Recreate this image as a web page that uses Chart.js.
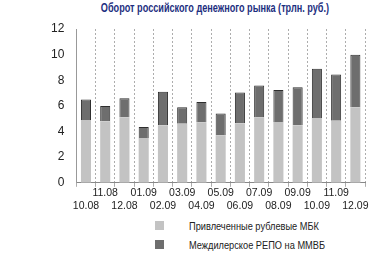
<!DOCTYPE html>
<html>
<head>
<meta charset="utf-8">
<script src="https://cdn.jsdelivr.net/npm/chart.js@4"></script>
<style>
  body { margin: 0; background: #fff; font-family: 'Liberation Sans', Arial, sans-serif; }
  #title { position: absolute; left: 0; top: 1px; width: 589px; text-align: center; font-size: 12.5px; font-weight: bold; color: #1d2f80; transform: scaleX(0.73); transform-origin: 0 0; white-space: nowrap; }
  #wrap { position: absolute; left: 0; top: 0; width: 375px; height: 212px; }
  #legend { position: absolute; left: 155px; top: 216px; font-size: 11px; color: #222; }
  .item { display: flex; align-items: center; height: 19px; }
  .box { width: 9px; height: 9px; margin-right: 25px; }
  .txt { display: inline-block; transform: scaleX(0.84); transform-origin: 0 50%; white-space: nowrap; }
</style>
</head>
<body>
<div id="title">Оборот российского денежного рынка (трлн. руб.)</div>
<div id="wrap"><canvas id="chart"></canvas></div>
<div id="legend"></div>
<script>
let months = ['10.08','11.08','12.08','01.09','02.09','03.09','04.09','05.09','06.09','07.09','08.09','09.09','10.09','11.09','12.09'];
let mbk = [4.9, 4.8, 5.1, 3.5, 4.5, 4.6, 4.7, 3.7, 4.65, 5.1, 4.75, 4.5, 5.05, 4.85, 5.9];
let repo = [1.6, 1.2, 1.5, 0.85, 2.6, 1.3, 1.6, 1.7, 2.4, 2.5, 2.5, 2.95, 3.85, 3.6, 4.1];
let seriesNames = ['Привлеченные рублевые МБК', 'Междилерское РЕПО на ММВБ'];
let yTicks = [0, 2, 4, 6, 8, 10, 12];

// staggered two-row labels
let labels = months.map((m, i) => i % 2 === 0 ? ['', m] : [m, '']);

let font = "'Liberation Sans', Arial, sans-serif";

let ctx = document.getElementById('chart').getContext('2d');
let chart = new Chart(ctx, {
  type: 'bar',
  data: {
    labels: labels,
    datasets: [{
      label: seriesNames[0],
      data: mbk,
      backgroundColor: '#c3c3c3',
      borderWidth: 0,
      barPercentage: 0.55,
      categoryPercentage: 0.95
    }, {
      label: seriesNames[1],
      data: repo,
      backgroundColor: '#6e6e6e',
      borderColor: '#2e2e2e',
      borderWidth: 1,
      barPercentage: 0.55,
      categoryPercentage: 0.95
    }]
  },
  options: {
    responsive: true,
    maintainAspectRatio: false,
    animation: false,
    layout: { padding: { left: 47, right: 10, top: 29, bottom: 0 } },
    plugins: {
      legend: { display: false },
      tooltip: { enabled: false }
    },
    scales: {
      x: {
        stacked: true,
        offset: true,
        grid: { display: true, offset: true, drawOnChartArea: true, color: '#adadad', lineWidth: 1, tickLength: 4 },
        border: { display: true, color: '#888', dash: [2, 2] },
        ticks: { color: '#222', font: { family: font, size: 10.5 }, maxRotation: 0, autoSkip: false, padding: 0 }
      },
      y: {
        stacked: true,
        min: 0,
        max: 12,
        afterBuildTicks: (axis) => { axis.ticks = yTicks.map(v => ({ value: v })); },
        grid: { display: false },
        border: { color: '#999' },
        ticks: { color: '#222', font: { family: font, size: 12 }, padding: 4 }
      }
    }
  }
});

let leg = document.getElementById('legend');
chart.data.datasets.forEach(ds => {
  let row = document.createElement('div');
  row.className = 'item';
  let b = document.createElement('span');
  b.className = 'box';
  b.style.background = ds.backgroundColor;
  let t = document.createElement('span');
  t.className = 'txt';
  t.textContent = ds.label;
  row.appendChild(b);
  row.appendChild(t);
  leg.appendChild(row);
});
</script>
</body>
</html>
